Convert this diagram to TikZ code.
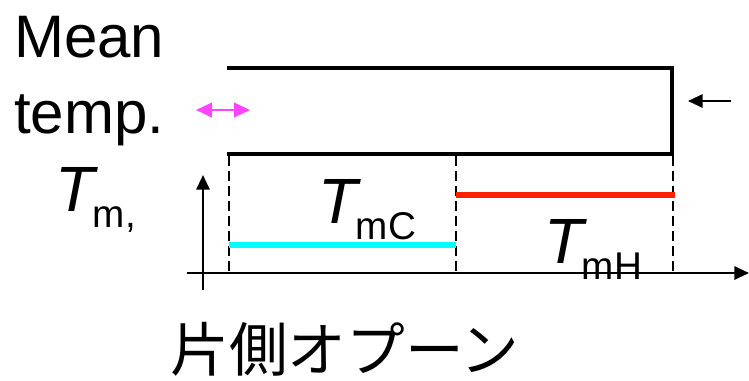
\documentclass[tikz,border=0pt]{standalone}
\usepackage{fontspec}
\setmainfont{Liberation Sans}
\newfontfamily\jpfont{Noto Sans CJK JP}
\usetikzlibrary{arrows.meta}

\definecolor{hotcol}{HTML}{FF2200}
\definecolor{coldcol}{HTML}{00FFFF}
\definecolor{mixcol}{HTML}{FF44FF}

% italic T with a lowered subscript
\newcommand{\tvar}[1]{\textit{T}\kern-4pt\raisebox{-12pt}{\fontsize{29}{29}\selectfont #1}}

\begin{document}
\begin{tikzpicture}[
        x=0.75pt, y=-0.75pt,
        wall/.style={line width=3pt, line cap=rect},
        axis/.style={line width=1.5pt, -{Triangle[length=11pt, width=10pt]}},
        guide/.style={line width=1.1pt, dash pattern=on 7.5pt off 3.75pt},
        level/.style={line width=5pt},
        lbl/.style={inner sep=0pt, anchor=base west},
        bigfont/.style={font=\fontsize{45}{58}\selectfont},
        tfont/.style={font=\fontsize{48}{48}\selectfont}
    ]
        \useasboundingbox (0,0) rectangle (749,380);

        % channel walls, open on the left
        \coordinate (tl) at (229,68);
        \coordinate (tr) at (672,68);
        \coordinate (br) at (672,154);
        \coordinate (bl) at (229,154);
        \draw[wall] (tl) -- (tr) -- (br) -- (bl);

        % arrows at both ends
        \coordinate (mixL) at (196,110);
        \coordinate (mixR) at (250,110);
        \draw[mixcol, line width=1.5pt, {Triangle[length=12pt, width=11pt]}-{Triangle[length=12pt, width=11pt]}] (mixL) -- (mixR);
        \coordinate (inS) at (731,101);
        \coordinate (inE) at (688,101);
        \draw[line width=1.5pt, -{Triangle[length=11pt, width=10pt]}] (inS) -- (inE);

        % axes
        \coordinate (ox) at (203,290);
        \coordinate (oy) at (203,175);
        \coordinate (hx) at (187,273);
        \coordinate (hy) at (749,273);
        \draw[axis] (ox) -- (oy);
        \draw[axis] (hx) -- (hy);

        % guide lines
        \coordinate (g1) at (229,156);
        \coordinate (g1b) at (229,273);
        \coordinate (g2) at (456,156);
        \coordinate (g2b) at (456,273);
        \coordinate (g3) at (673,156);
        \coordinate (g3b) at (673,273);
        \draw[guide] (g1) -- (g1b);
        \draw[guide] (g2) -- (g2b);
        \draw[guide] (g3) -- (g3b);

        % mean temperature levels
        \coordinate (c1) at (229,245);
        \coordinate (c2) at (456,245);
        \coordinate (h1) at (456,195);
        \coordinate (h2) at (675,195);
        \draw[level, coldcol] (c1) -- (c2);
        \draw[level, hotcol] (h1) -- (h2);

        % labels
        \node[lbl, bigfont] (mean) at (14,57) {Mean};
        \node[lbl, bigfont] (temp) at (14,133) {temp.};
        \node[lbl, tfont] (tm) at (55,211) {\tvar{m,}};
        \node[lbl, tfont] (tmc) at (318,223) {\tvar{mC}};
        \node[lbl, tfont] (tmh) at (544,263) {\tvar{mH}};
        \node[inner sep=0pt, anchor=base, font=\jpfont\fontsize{44}{44}\selectfont] (title) at (345,371) {片側オプーン};

    \end{tikzpicture}
\end{document}
